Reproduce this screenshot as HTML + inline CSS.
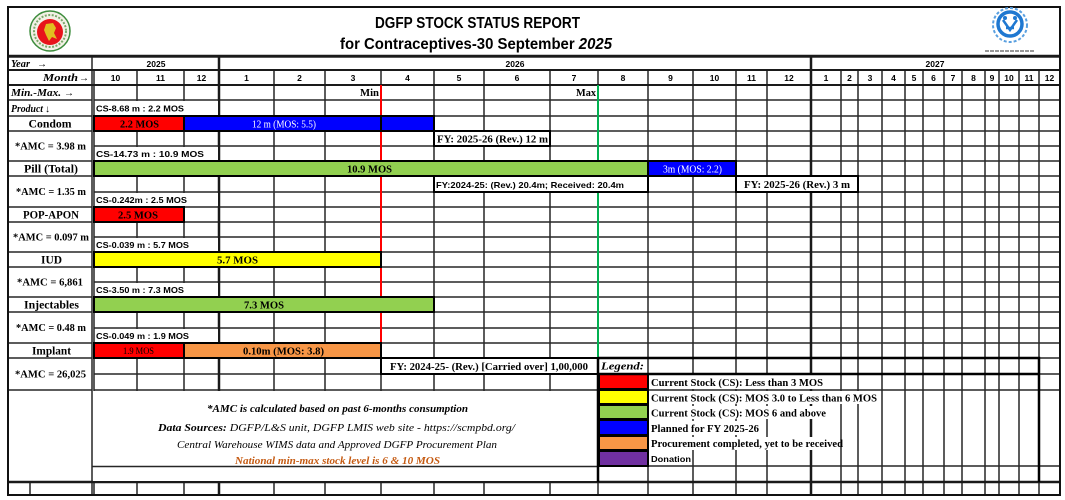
<!DOCTYPE html>
<html><head><meta charset="utf-8"><style>
html,body{margin:0;padding:0;background:#fff;}
svg{display:block;}
.s{font-family:"Liberation Sans",sans-serif;font-weight:bold;fill:#000;}
.r{font-family:"Liberation Serif",serif;font-weight:bold;fill:#000;}
.i{font-family:"Liberation Serif",serif;font-style:italic;fill:#000;}
</style></head><body>
<svg width="1065" height="500" viewBox="0 0 1065 500" xmlns="http://www.w3.org/2000/svg">
<rect width="1065" height="500" fill="#fff"/>

<!-- grid verticals -->
<g stroke="#262626" stroke-width="1.5" fill="none">
<path d="M94 70V495 M137 70V495 M184 70V495 M219 57V495 M274 70V495 M325 70V495 M381 70V495 M434 70V495 M484 70V495 M550 70V495 M598 70V495 M648 70V495 M693 70V495 M736 70V495 M767 70V495 M811 57V495 M841 70V495 M858 70V495 M882 70V495 M905 70V495 M923 70V495 M944 70V495 M962 70V495 M985 70V495 M999 70V495 M1019 70V495 M1039 70V495 M92 57V495 M30 482V495"/>
<path d="M94 70H1060 M94 85H1060 M94 100H1060 M94 116H1060 M94 131H1060 M94 146H1060 M94 161H1060 M94 176H1060 M94 192H1060 M94 207H1060 M94 222H1060 M94 237H1060 M94 252H1060 M94 267H1060 M94 282H1060 M94 297H1060 M94 312H1060 M94 328H1060 M94 343H1060 M94 358H1060 M94 374H1060 M94 390H1060 M94 466H1060"/>
<path d="M8 57H1060 M8 70H92 M8 85H92 M8 100H92 M8 116H92 M8 131H92 M8 161H92 M8 176H92 M8 207H92 M8 222H92 M8 252H92 M8 267H92 M8 297H92 M8 312H92 M8 343H92 M8 358H92 M8 390H92"/>
</g>
<g stroke="#1a1a1a" stroke-width="2.5" fill="none">
<path d="M219 57V495 M811 57V495 M8 56H1060 M8 482H1060"/>
</g>
<g stroke="#1a1a1a" stroke-width="2" fill="none">
<path d="M8 70H1060 M8 85H1060"/>
</g>

<!-- min / max lines -->
<line x1="381" y1="85" x2="381" y2="343" stroke="#ff0000" stroke-width="2"/>
<line x1="598" y1="85" x2="598" y2="358" stroke="#00b050" stroke-width="2"/>

<!-- merged white cells (CS rows) -->
<g fill="#fff">
<rect x="95" y="101" width="123" height="14"/>
<rect x="95" y="147" width="123" height="13"/>
<rect x="95" y="193" width="123" height="13"/>
<rect x="95" y="238" width="123" height="13"/>
<rect x="95" y="283" width="123" height="13"/>
<rect x="95" y="329" width="123" height="13"/>
<!-- footer -->
<rect x="93" y="391" width="504" height="90"/>
</g>
<line x1="92" y1="466.5" x2="598" y2="466.5" stroke="#262626" stroke-width="1.5"/>

<!-- bars -->
<g stroke="#000" stroke-width="2">
<rect x="94" y="116" width="90" height="15" fill="#ff0000"/>
<rect x="184" y="116" width="197" height="15" fill="#0000ff"/>
<rect x="381" y="116" width="53" height="15" fill="#0000ff"/>
<rect x="94" y="161" width="554" height="15" fill="#92d050"/>
<rect x="648" y="161" width="88" height="15" fill="#0000ff"/>
<rect x="94" y="207" width="90" height="15" fill="#ff0000"/>
<rect x="94" y="252" width="287" height="15" fill="#ffff00"/>
<rect x="94" y="297" width="340" height="15" fill="#92d050"/>
<rect x="94" y="343" width="90" height="15" fill="#ff0000"/>
<rect x="184" y="343" width="197" height="15" fill="#f79646"/>
<!-- FY boxes -->
<rect x="434" y="131" width="116" height="15" fill="#fff"/>
<rect x="434" y="176" width="214" height="16" fill="#fff"/>
<rect x="736" y="176" width="122" height="16" fill="#fff"/>
<rect x="381" y="358" width="217" height="16" fill="#fff"/>
</g>

<!-- legend -->
<g fill="#fff">
<rect x="649" y="375" width="191" height="14"/>
<rect x="649" y="391" width="232" height="13"/>
<rect x="649" y="406" width="191" height="13"/>
<rect x="649" y="421" width="117" height="14"/>
<rect x="649" y="437" width="191" height="13"/>
<rect x="649" y="452" width="43" height="13"/>
<rect x="599" y="359" width="48" height="14"/>
</g>
<g stroke="#000" stroke-width="2">
<rect x="599" y="374" width="49" height="15" fill="#ff0000"/>
<rect x="599" y="390" width="49" height="14" fill="#ffff00"/>
<rect x="599" y="405" width="49" height="14" fill="#92d050"/>
<rect x="599" y="420" width="49" height="15" fill="#0000ff"/>
<rect x="599" y="436" width="49" height="14" fill="#f79646"/>
<rect x="599" y="451" width="49" height="15" fill="#7030a0"/>
</g>
<g stroke="#000" stroke-width="2.5" fill="none">
<path d="M598 358H1039V482 M598 374H1039 M598 358V482"/>
</g>

<!-- outer border -->
<rect x="8" y="7" width="1052" height="488" fill="none" stroke="#111" stroke-width="2"/>

<!-- logos -->
<circle cx="50" cy="31" r="20" fill="#f3f1e6" stroke="#3c8c3c" stroke-width="1.5"/>
<circle cx="50" cy="31" r="16" fill="none" stroke="#7aa86a" stroke-width="2" stroke-dasharray="2 1.5"/>
<circle cx="50" cy="32" r="13" fill="#e8141b"/>
<path d="M46 24 L53 23 L56 28 L54 33 L57 39 L52 37 L49 41 L46 35 L44 30 Z" fill="#e0c020"/>
<circle cx="1010" cy="25" r="17" fill="none" stroke="#5aa0e0" stroke-width="2" stroke-dasharray="3 2"/>
<circle cx="1010" cy="24" r="12" fill="#fff" stroke="#1f78d1" stroke-width="3.5"/>
<path d="M1003 20 L1010 30 L1017 20 M1006 28 L1014 28" stroke="#1f78d1" stroke-width="2.5" fill="none"/>
<circle cx="1005" cy="18" r="2" fill="#1f78d1"/>
<circle cx="1015" cy="18" r="2" fill="#1f78d1"/>
<line x1="985" y1="51" x2="1035" y2="51" stroke="#777" stroke-width="1.5" stroke-dasharray="4 1"/>

<!-- title -->
<text class="s" x="375" y="28" font-size="16" textLength="205" lengthAdjust="spacingAndGlyphs">DGFP STOCK STATUS REPORT</text>
<text class="s" x="340" y="49" font-size="16" textLength="272" lengthAdjust="spacingAndGlyphs">for Contraceptives-30 September <tspan font-style="italic">2025</tspan></text>

<!-- year / months -->
<g class="s" font-size="8.5" text-anchor="middle">
<text x="156" y="67">2025</text><text x="515" y="67">2026</text><text x="935" y="67">2027</text>
<text x="115.5" y="81">10</text><text x="160.5" y="81">11</text><text x="201.5" y="81">12</text>
<text x="246.5" y="81">1</text><text x="299.5" y="81">2</text><text x="353" y="81">3</text><text x="407.5" y="81">4</text><text x="459" y="81">5</text><text x="517" y="81">6</text><text x="574" y="81">7</text><text x="623" y="81">8</text><text x="670.5" y="81">9</text><text x="714.5" y="81">10</text><text x="751.5" y="81">11</text><text x="789" y="81">12</text>
<text x="826" y="81">1</text><text x="849.5" y="81">2</text><text x="870" y="81">3</text><text x="893.5" y="81">4</text><text x="914" y="81">5</text><text x="933.5" y="81">6</text><text x="953" y="81">7</text><text x="973.5" y="81">8</text><text x="992" y="81">9</text><text x="1009" y="81">10</text><text x="1029" y="81">11</text><text x="1049.5" y="81">12</text>
</g>

<!-- label column -->
<g class="r" font-style="italic" font-size="10">
<text x="11" y="67" textLength="19" lengthAdjust="spacingAndGlyphs">Year</text>
<text x="37" y="67" font-style="normal" font-weight="normal">→</text>
<text x="43" y="81" textLength="35" lengthAdjust="spacingAndGlyphs">Month</text>
<text x="79" y="81" font-style="normal" font-weight="normal">→</text>
<text x="11" y="96" textLength="50" lengthAdjust="spacingAndGlyphs">Min.-Max.</text>
<text x="64" y="96" font-style="normal">→</text>
<text x="11" y="112" textLength="32" lengthAdjust="spacingAndGlyphs">Product</text>
<text x="45" y="112" font-style="normal">↓</text>
</g>
<g class="r" font-size="12" text-anchor="middle">
<text x="50" y="127.5" textLength="43" lengthAdjust="spacingAndGlyphs">Condom</text>
<text x="51" y="172.5" textLength="54" lengthAdjust="spacingAndGlyphs">Pill (Total)</text>
<text x="51" y="218.5" textLength="56" lengthAdjust="spacingAndGlyphs">POP-APON</text>
<text x="51.5" y="263.5" textLength="21" lengthAdjust="spacingAndGlyphs">IUD</text>
<text x="51.5" y="308.5" textLength="55" lengthAdjust="spacingAndGlyphs">Injectables</text>
<text x="51.5" y="354.5" textLength="39" lengthAdjust="spacingAndGlyphs">Implant</text>
</g>
<g class="r" font-size="10" text-anchor="middle">
<text x="50.5" y="149.5" textLength="71" lengthAdjust="spacingAndGlyphs">*AMC = 3.98 m</text>
<text x="51" y="195" textLength="70" lengthAdjust="spacingAndGlyphs">*AMC = 1.35 m</text>
<text x="51" y="240.5" textLength="76" lengthAdjust="spacingAndGlyphs">*AMC = 0.097 m</text>
<text x="50" y="285.5" textLength="66" lengthAdjust="spacingAndGlyphs">*AMC = 6,861</text>
<text x="51" y="331" textLength="70" lengthAdjust="spacingAndGlyphs">*AMC = 0.48 m</text>
<text x="50.5" y="377.5" textLength="71" lengthAdjust="spacingAndGlyphs">*AMC = 26,025</text>
</g>

<!-- min max -->
<g class="r" font-size="10.5">
<text x="360" y="96" textLength="19" lengthAdjust="spacingAndGlyphs">Min</text>
<text x="576" y="96" textLength="20" lengthAdjust="spacingAndGlyphs">Max</text>
</g>

<!-- CS texts -->
<g class="s" font-size="8.5">
<text x="96" y="111.5" textLength="88" lengthAdjust="spacingAndGlyphs">CS-8.68 m : 2.2 MOS</text>
<text x="96" y="157" textLength="108" lengthAdjust="spacingAndGlyphs">CS-14.73 m : 10.9 MOS</text>
<text x="96" y="203" textLength="91" lengthAdjust="spacingAndGlyphs">CS-0.242m : 2.5 MOS</text>
<text x="96" y="248" textLength="93" lengthAdjust="spacingAndGlyphs">CS-0.039 m : 5.7 MOS</text>
<text x="96" y="293" textLength="88" lengthAdjust="spacingAndGlyphs">CS-3.50 m : 7.3 MOS</text>
<text x="96" y="339" textLength="93" lengthAdjust="spacingAndGlyphs">CS-0.049 m : 1.9 MOS</text>
<text x="436" y="188" textLength="188" lengthAdjust="spacingAndGlyphs">FY:2024-25: (Rev.) 20.4m; Received: 20.4m</text>
</g>

<!-- bar texts -->
<g class="r" font-size="10.5">
<text x="120" y="127.5" textLength="39" lengthAdjust="spacingAndGlyphs">2.2 MOS</text>
<text x="347" y="172.5" textLength="45" lengthAdjust="spacingAndGlyphs">10.9 MOS</text>
<text x="118" y="218.5" textLength="40" lengthAdjust="spacingAndGlyphs">2.5 MOS</text>
<text x="217" y="263.5" textLength="41" lengthAdjust="spacingAndGlyphs">5.7 MOS</text>
<text x="244" y="308.5" textLength="40" lengthAdjust="spacingAndGlyphs">7.3 MOS</text>
<text x="123" y="354" font-size="9" font-weight="normal" textLength="31" lengthAdjust="spacingAndGlyphs">1.9 MOS</text>
<text x="243" y="354.5" textLength="81" lengthAdjust="spacingAndGlyphs">0.10m (MOS: 3.8)</text>
<text x="437" y="142.5" textLength="111" lengthAdjust="spacingAndGlyphs">FY: 2025-26 (Rev.) 12 m</text>
<text x="744" y="188" textLength="106" lengthAdjust="spacingAndGlyphs">FY: 2025-26 (Rev.) 3 m</text>
<text x="390" y="370" textLength="198" lengthAdjust="spacingAndGlyphs">FY: 2024-25- (Rev.) [Carried over] 1,00,000</text>
</g>
<g font-family="Liberation Serif, serif" font-size="10.5" fill="#fff">
<text x="252" y="127.5" textLength="64" lengthAdjust="spacingAndGlyphs">12 m (MOS: 5.5)</text>
<text x="663" y="172.5" textLength="59" lengthAdjust="spacingAndGlyphs">3m (MOS: 2.2)</text>
</g>

<!-- footer text -->
<g class="i" font-size="10.5">
<text x="207" y="412" font-weight="bold" textLength="261" lengthAdjust="spacingAndGlyphs">*AMC is calculated based on past 6-months consumption</text>
<text x="158" y="431" textLength="357" lengthAdjust="spacingAndGlyphs"><tspan font-weight="bold">Data Sources:</tspan> DGFP/L&amp;S unit, DGFP LMIS web site -  https://scmpbd.org/</text>
<text x="177" y="448" textLength="320" lengthAdjust="spacingAndGlyphs">Central Warehouse WIMS data and Approved DGFP Procurement Plan</text>
<text x="235" y="464" font-weight="bold" fill="#c55a11" textLength="205" lengthAdjust="spacingAndGlyphs">National min-max stock level is 6 &amp; 10 MOS</text>
</g>

<!-- legend text -->
<text class="r" x="601" y="369.5" font-size="11" font-style="italic" textLength="43" lengthAdjust="spacingAndGlyphs">Legend:</text>
<g class="r" font-size="10">
<text x="651" y="386" textLength="172" lengthAdjust="spacingAndGlyphs">Current Stock (CS): Less than 3 MOS</text>
<text x="651" y="401.5" textLength="226" lengthAdjust="spacingAndGlyphs">Current Stock (CS): MOS 3.0 to Less than 6 MOS</text>
<text x="651" y="416.5" textLength="175" lengthAdjust="spacingAndGlyphs">Current Stock (CS): MOS 6 and above</text>
<text x="651" y="432" textLength="108" lengthAdjust="spacingAndGlyphs">Planned for FY 2025-26</text>
<text x="651" y="447" textLength="192" lengthAdjust="spacingAndGlyphs">Procurement completed, yet to be received</text>
</g>
<text class="s" x="651" y="462" font-size="8.5" textLength="40" lengthAdjust="spacingAndGlyphs">Donation</text>
</svg>
</body></html>
